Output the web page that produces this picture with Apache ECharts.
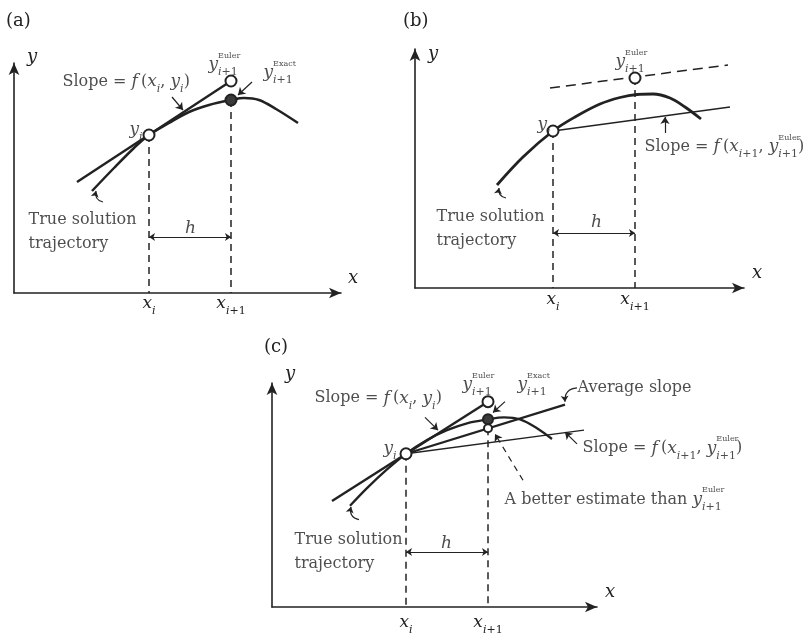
<!DOCTYPE html>
<html><head><meta charset="utf-8">
<script src="https://cdn.jsdelivr.net/npm/echarts@6/dist/echarts.min.js"></script>
<style>html,body{margin:0;padding:0;background:#fff}#c{width:804px;height:636px}</style>
</head><body><div id="c"></div>
<script>
// ===== data (panel coordinates: origin at the axes corner, y upward) =====
// panel (a)
const aTrue    = [[78,102],[100,125],[120,145],[135,158],[155,170],[175,181],[195,188],[217,193],[230,195],[245,193],[262,184],[284,170]];
const aTangent = [[63,111],[217,212]];
const aYi      = [135,158];
const aEuler   = [217,212];
const aExact   = [217,193];
const aTicks   = [135,217];
// panel (b)
const bTrue        = [[82,103],[108,131],[138,157],[160,171],[185,184],[205,190.5],[222,193.5],[238,194],[255,190],[270,181],[286,169]];
const bEulerSlope  = [[135,200],[313,223]];
const bSlopeFromYi = [[138,157],[315,181]];
const bYi          = [138,157];
const bEuler       = [220,210];
const bTicks       = [138,220];
// panel (c)
const cTrue        = [[78,103],[95,121],[115,140],[134,156],[155,170],[175,180],[195,187],[216,191],[232,193],[248,191],[265,182],[280,171]];
const cTangent     = [[60,108],[216,209]];
const cAverage     = [[134,156],[293,206]];
const cSlopeFromYi = [[134,156],[312,180]];
const cYi          = [134,156];
const cEuler       = [216,209];
const cExact       = [216,191];
const cBetter      = [216,182];
const cTicks       = [134,216];

// ===== texts =====
const txtSlopeXi   = '{t|Slope = }{m|f}{t|\u2009(}{m|x}{s|i}{t|, }{m|y}{s|i}{t|)}';
const txtSlopeNext = '{t|Slope = }{m|f}{t|\u2009(}{m|x}{s|i}{sn|+1}{t|, }{m|y}{sup|Euler}{s|i}{sn|+1}{t|)}';
const txtYEuler    = '{m|y}{sup|Euler}{s|i}{sn|+1}';
const txtYExact    = '{m|y}{sup|Exact}{s|i}{sn|+1}';
const txtYi        = '{m|y}{s|i}';
const txtTrue      = '{tl|True solution}\n{tl|trajectory}';
const txtH         = '{m|h}';
const txtAverage   = '{t|Average slope}';
const txtBetter    = '{t|A better estimate than }{m|y}{sup|Euler}{s|i}{sn|+1}';
const tickTexts    = ['{m|x}{s|i}', '{m|x}{s|i}{sn|+1}'];

// ===== style =====
const FONT = '"DejaVu Serif","Liberation Serif",serif';
const INK = '#222222';
const TXT = '#222222';
const rich = {
  t:  {fontFamily: FONT, fontSize: 16, color: TXT, lineHeight: 26},
  tl: {fontFamily: FONT, fontSize: 16, color: TXT, lineHeight: 24},
  m:  {fontFamily: FONT, fontStyle: 'italic', fontSize: 17, color: TXT, lineHeight: 26},
  s:  {fontFamily: FONT, fontStyle: 'italic', fontSize: 11, color: TXT, lineHeight: 13, verticalAlign: 'bottom'},
  sn: {fontFamily: FONT, fontSize: 11, color: TXT, lineHeight: 13, verticalAlign: 'bottom'},
  sup:{fontFamily: FONT, fontSize: 8, color: TXT, lineHeight: 11, verticalAlign: 'top', width: 0}
};

const grids = [
  {left: 14,  top: 63,  width: 327, height: 230},
  {left: 415, top: 49,  width: 329, height: 239},
  {left: 272, top: 383, width: 325, height: 228}
];
const yNameGap = [6, -5, 9];
const xNameGap = [7, 8, 8];
const tickMargin = [-2, -1, 3];
const ticksAll = [aTicks, bTicks, cTicks];

const xAxis = grids.map((g, i) => ({
  gridIndex: i, type: 'value', min: 0, max: g.width,
  axisLine: {onZero: false, symbol: ['none', 'arrow'], symbolSize: [8, 12], lineStyle: {color: INK, width: 1.6}},
  axisTick: {show: false}, splitLine: {show: false},
  axisLabel: {show: true, customValues: ticksAll[i], margin: tickMargin[i],
    formatter: (v) => v === ticksAll[i][0] ? tickTexts[0] : tickTexts[1], rich: rich},
  name: 'x', nameLocation: 'end', nameGap: xNameGap[i],
  nameTextStyle: {fontFamily: FONT, fontStyle: 'italic', fontSize: 18, color: TXT, align: 'left', verticalAlign: 'bottom', padding: [0, 0, 6, 0]}
}));
const yAxis = grids.map((g, i) => ({
  gridIndex: i, type: 'value', min: 0, max: g.height,
  axisLine: {onZero: false, symbol: ['none', 'arrow'], symbolSize: [8, 12], lineStyle: {color: INK, width: 1.6}},
  axisTick: {show: false}, splitLine: {show: false}, axisLabel: {show: false},
  name: 'y', nameLocation: 'end', nameGap: yNameGap[i],
  nameTextStyle: {fontFamily: FONT, fontStyle: 'italic', fontSize: 18, color: TXT, align: 'left', verticalAlign: 'middle', padding: [0, 0, 0, 13]}
}));

const series = [];
const base = (g) => ({xAxisIndex: g, yAxisIndex: g, silent: true, animation: false, clip: false});
function curve(g, data, width) {
  series.push(Object.assign(base(g), {type: 'line', data, smooth: 0.35, symbol: 'none', z: 3,
    lineStyle: {color: INK, width}}));
}
function straight(g, data, width, dash) {
  series.push(Object.assign(base(g), {type: 'line', data, smooth: false, symbol: 'none', z: 3,
    lineStyle: {color: INK, width, type: dash || 'solid'}}));
}
function arrows(g, list, o) {
  o = o || {};
  series.push(Object.assign(base(g), {type: 'lines', coordinateSystem: 'cartesian2d',
    symbol: o.both ? ['arrow', 'arrow'] : ['none', 'arrow'], symbolSize: o.size || 7, z: 4,
    lineStyle: {color: INK, width: o.width || 1.2, type: o.dash || 'solid', curveness: o.curve || 0, opacity: 1},
    data: list.map(c => ({coords: c}))}));
}
function dots(g, pts, filled, size) {
  series.push(Object.assign(base(g), {type: 'scatter', data: pts, symbolSize: size, z: 6,
    itemStyle: {color: filled ? '#3a3a3a' : '#ffffff', borderColor: INK, borderWidth: 2, opacity: 1}}));
}
function notes(g, list) {
  series.push(Object.assign(base(g), {type: 'scatter', symbolSize: 1, z: 7,
    itemStyle: {color: 'rgba(0,0,0,0)'},
    label: {show: true, rich: rich},
    data: list.map(n => ({value: n.at, label: {show: true, formatter: n.text, position: [0, 0],
      align: n.align || 'left', verticalAlign: 'middle', rich: rich}}))}));
}
const DASH = [7, 5];

// ---- panel (a)
curve(0, aTrue, 2.5);
straight(0, aTangent, 2.4);
straight(0, [[aTicks[0], aYi[1]], [aTicks[0], 0]], 1.5, DASH);
straight(0, [[aTicks[1], aExact[1]], [aTicks[1], 0]], 1.5, DASH);
arrows(0, [[[158,196],[169,183]], [[238,211],[224,198]]]);
arrows(0, [[[89,91],[82,102]]], {curve: 0.5, size: 6});
arrows(0, [[[aTicks[0],56],[aTicks[1],56]]], {both: true, size: 6});
dots(0, [aYi, aEuler], false, 11);
dots(0, [aExact], true, 11);
notes(0, [
  {at: [49,211], text: txtSlopeXi},
  {at: [195,228], text: txtYEuler},
  {at: [250,220], text: txtYExact},
  {at: [129,163], text: txtYi, align: 'right'},
  {at: [15,61], text: txtTrue},
  {at: [177,64], text: txtH, align: 'center'}
]);

// ---- panel (b)
curve(1, bTrue, 2.8);
straight(1, bEulerSlope, 1.5, [10, 6]);
straight(1, bSlopeFromYi, 1.3);
straight(1, [[bTicks[0], bYi[1]], [bTicks[0], 0]], 1.5, DASH);
straight(1, [[bTicks[1], bEuler[1]], [bTicks[1], 0]], 1.5, DASH);
arrows(1, [[[250,155],[250,171]]]);
arrows(1, [[[91,90],[84,100]]], {curve: 0.5, size: 6});
arrows(1, [[[bTicks[0],55],[bTicks[1],55]]], {both: true, size: 6});
dots(1, [bYi, bEuler], false, 11);
notes(1, [
  {at: [201,226], text: txtYEuler},
  {at: [136,163], text: txtYi, align: 'right'},
  {at: [230,141], text: txtSlopeNext},
  {at: [22,59], text: txtTrue},
  {at: [182,65], text: txtH, align: 'center'}
]);

// ---- panel (c)
curve(2, cTrue, 2.3);
straight(2, cTangent, 2.4);
straight(2, cAverage, 2.3);
straight(2, cSlopeFromYi, 1.3);
straight(2, [[cTicks[0], cYi[1]], [cTicks[0], 0]], 1.5, DASH);
straight(2, [[cTicks[1], cBetter[1]], [cTicks[1], 0]], 1.5, DASH);
arrows(2, [[[153,193],[166,180]], [[233,209],[221,198]], [[305,166],[293,178]]]);
arrows(2, [[[251,129],[223,176]]], {dash: [6, 5]});
arrows(2, [[[87,89],[79,102]]], {curve: 0.5, size: 6});
arrows(2, [[[305,223],[293,209]]], {curve: -0.5, size: 6});
arrows(2, [[[cTicks[0],56],[cTicks[1],56]]], {both: true, size: 6});
dots(2, [cYi, cEuler], false, 11);
dots(2, [cExact], true, 10);
dots(2, [cBetter], false, 8);
notes(2, [
  {at: [43,212], text: txtSlopeXi},
  {at: [191,226], text: txtYEuler},
  {at: [246,226], text: txtYExact},
  {at: [306,223], text: txtAverage},
  {at: [311,161], text: txtSlopeNext},
  {at: [233,109], text: txtBetter},
  {at: [125,161], text: txtYi, align: 'right'},
  {at: [23,56], text: txtTrue},
  {at: [175,64], text: txtH, align: 'center'}
]);

const titleStyle = {fontFamily: FONT, fontWeight: 'normal', fontSize: 18, color: TXT};
const chart = echarts.init(document.getElementById('c'));
chart.setOption({
  backgroundColor: '#ffffff',
  animation: false,
  title: [
    {text: '(a)', left: 6, top: 12, padding: 0, textStyle: titleStyle},
    {text: '(b)', left: 403, top: 12, padding: 0, textStyle: titleStyle},
    {text: '(c)', left: 264, top: 338, padding: 0, textStyle: titleStyle}
  ],
  grid: grids,
  xAxis, yAxis, series
});
</script></body></html>
